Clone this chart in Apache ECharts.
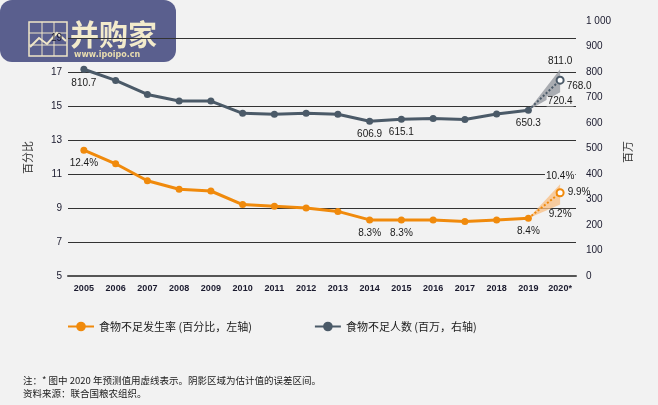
<!DOCTYPE html>
<html>
<head>
<meta charset="utf-8">
<title>食物不足发生率与人数</title>
<script src="https://cdn.jsdelivr.net/npm/echarts@6/dist/echarts.min.js"></script>
<style>
    html, body { margin: 0; padding: 0; background: #f2f2f2; }
    #chart { width: 658px; height: 405px; }
</style>
</head>
<body>
<div id="chart"></div>
<script>
// 年份（2020 为预测值）
const years = ['2005', '2006', '2007', '2008', '2009', '2010', '2011', '2012',
    '2013', '2014', '2015', '2016', '2017', '2018', '2019', '2020*'];

// 食物不足发生率（%，左轴），2005-2019
const rateValues = [12.4, 11.6, 10.6, 10.1, 10.0, 9.2, 9.1, 9.0, 8.8, 8.3, 8.3, 8.3, 8.2, 8.3, 8.4];
// 食物不足人数（百万，右轴），2005-2019
const countValues = [810.7, 767, 712, 686, 686, 638, 634, 638, 634, 606.9, 615.1, 618, 614, 635, 650.3];

// 2020 预测值及误差区间
const rateForecast = { mid: 9.9, low: 9.2, high: 10.4 };
const countForecast = { mid: 768.0, low: 720.4, high: 811.0 };

// 显示数值标签的年份序号
const labelIdx = [0, 9, 10, 14];

// 坐标轴刻度
const leftTicks = [5, 7, 9, 11, 13, 15, 17, 19];
const rightTicks = ['0', '100', '200', '300', '400', '500', '600', '700', '800', '900', '1 000'];

const legendNames = ['食物不足发生率 (百分比，左轴)', '食物不足人数 (百万，右轴)'];
const noteLines = ['注：* 图中 2020 年预测值用虚线表示。阴影区域为估计值的误差区间。', '资料来源：联合国粮农组织。'];

const ORANGE = '#f08a0c';
const GRAY = '#4b5a68';
const NUM_FONT = "'Liberation Sans Narrow', 'Liberation Sans', sans-serif";
const CJK_FONT = "'Noto Sans CJK SC', sans-serif";

(function () {
    const chart = echarts.init(document.getElementById('chart'));
    const last = rateValues.length - 1;

    // 主序列：带部分数值标签
    function mainData(values, fmt) {
        const arr = values.map((v, i) => labelIdx.includes(i)
            ? { value: v, label: { show: true, formatter: fmt(v) } }
            : v);
        arr.push(null);
        return arr;
    }

    // 预测序列：只在 2019 和 2020 有值
    function tailData(v2019, v2020) {
        const arr = years.map(() => null);
        arr[last] = v2019;
        arr[last + 1] = v2020;
        return arr;
    }

    const numLabel = {
        fontFamily: NUM_FONT, fontSize: 10, color: '#1a1a1a',
        backgroundColor: '#f2f2f2', padding: [0, 1]
    };

    const forecastDotted = (name, color, axis, v19, v20, fmt, offset) => ({
        name: name + '预测',
        type: 'line',
        yAxisIndex: axis,
        data: tailData({ value: v19, symbol: 'none' }, { value: v20, symbol: 'emptyCircle', symbolSize: 7 }),
        lineStyle: { type: 'dotted', width: 2, color: color },
        itemStyle: { color: color, borderWidth: 1.5 },
        symbol: 'emptyCircle',
        z: 4,
        label: {
            show: true, position: 'right', distance: 2, offset: offset, ...numLabel,
            backgroundColor: 'transparent',
            formatter: p => p.dataIndex === last ? '' : fmt(p.value)
        }
    });

    // 误差区间：下沿 + 区间宽度堆叠成阴影
    const bandSeries = (stack, color, axis, v19, low, high, fmt, lowDist) => [
        {
            name: stack + '下',
            type: 'line',
            yAxisIndex: axis,
            stack: stack,
            data: tailData(v19, low),
            symbol: 'circle',
            symbolSize: 0.1,
            itemStyle: { color: 'rgba(0,0,0,0)' },
            lineStyle: { opacity: 0 },
            z: 2,
            label: {
                show: true, position: 'bottom', distance: lowDist, ...numLabel,
                formatter: p => p.dataIndex === last ? '' : fmt(low)
            }
        },
        {
            name: stack + '上',
            type: 'line',
            yAxisIndex: axis,
            stack: stack,
            data: tailData(0, +(high - low).toFixed(2)),
            symbol: 'circle',
            symbolSize: 0.1,
            itemStyle: { color: 'rgba(0,0,0,0)' },
            lineStyle: { opacity: 0 },
            areaStyle: { color: color, opacity: 1 },
            z: 2,
            label: {
                show: true, position: 'top', distance: 3, ...numLabel,
                formatter: p => p.dataIndex === last ? '' : fmt(high)
            }
        }
    ];

    const pct = v => v.toFixed(1) + '%';
    const mil = v => v.toFixed(1);

    chart.setOption({
        backgroundColor: '#f2f2f2',
        animation: false,
        textStyle: { fontFamily: CJK_FONT },
        grid: { left: 68, right: 82, top: 21, bottom: 129 },
        legend: {
            data: legendNames,
            left: 62,
            top: 316,
            itemWidth: 26,
            itemHeight: 12,
            itemGap: 62,
            textStyle: { fontFamily: CJK_FONT, fontSize: 11, color: '#1a1a1a' }
        },
        xAxis: {
            type: 'category',
            data: years,
            axisLine: { lineStyle: { color: '#555', width: 2 } },
            axisTick: { alignWithLabel: true, interval: 0, length: 4, lineStyle: { color: '#555' } },
            axisLabel: { interval: 0, fontFamily: NUM_FONT, fontSize: 9, fontWeight: 'bold', color: '#1a1a2e', margin: 8 }
        },
        yAxis: [
            {
                type: 'value',
                min: 5,
                max: 20,
                interval: 2,
                name: '百分比',
                nameLocation: 'middle',
                nameGap: 35,
                nameRotate: 90,
                nameTextStyle: { fontFamily: CJK_FONT, fontSize: 11, color: '#333', padding: [0, 18, 0, 0] },
                axisLine: { show: false },
                axisTick: { show: false },
                axisLabel: {
                    fontFamily: NUM_FONT, fontSize: 10, color: '#1a1a2e', margin: 6,
                    formatter: v => leftTicks.includes(v) ? String(v) : ''
                },
                splitLine: {
                    lineStyle: {
                        color: leftTicks.map(() => '#333').concat(['rgba(0,0,0,0)']),
                        width: 1
                    }
                }
            },
            {
                type: 'value',
                min: 0,
                max: 1000,
                interval: 100,
                position: 'right',
                name: '百万',
                nameLocation: 'middle',
                nameGap: 40,
                nameRotate: 90,
                nameTextStyle: { fontFamily: CJK_FONT, fontSize: 11, color: '#333', padding: [0, 7, 0, 0] },
                axisLine: { show: false },
                axisTick: { show: false },
                splitLine: { show: false },
                axisLabel: {
                    fontFamily: NUM_FONT, fontSize: 10, color: '#1a1a2e', margin: 10,
                    formatter: v => rightTicks[Math.round(v / 100)]
                }
            }
        ],
        graphic: [
            // 水印
            {
                type: 'group', left: 0, top: 0, z: -10,
                children: [
                    { type: 'rect', shape: { x: -12, y: -14, width: 176, height: 62, r: 12 }, style: { fill: '#5a5f8e' } },
                    { type: 'rect', shape: { x: 17, y: 8, width: 38, height: 34 }, style: { fill: 'none', stroke: '#efe6c8', lineWidth: 1.5 } },
                    { type: 'line', shape: { x1: 17, y1: 19, x2: 55, y2: 19 }, style: { stroke: '#efe6c8', lineWidth: 1 } },
                    { type: 'line', shape: { x1: 17, y1: 31, x2: 55, y2: 31 }, style: { stroke: '#efe6c8', lineWidth: 1 } },
                    { type: 'line', shape: { x1: 30, y1: 8, x2: 30, y2: 42 }, style: { stroke: '#efe6c8', lineWidth: 1 } },
                    { type: 'line', shape: { x1: 42, y1: 8, x2: 42, y2: 42 }, style: { stroke: '#efe6c8', lineWidth: 1 } },
                    { type: 'polyline', shape: { points: [[18, 33], [27, 24], [35, 30], [45, 19], [54, 27]] }, style: { fill: 'none', stroke: '#efe6c8', lineWidth: 2 } },
                    { type: 'text', x: 58, y: 6, style: { text: '并购家', font: 'bold 29px "Noto Sans CJK SC"', fill: '#f3ebcc' } },
                    { type: 'text', x: 62, y: 37, style: { text: 'www.ipoipo.cn', font: 'bold 8px "DejaVu Sans"', fill: '#e9ddb0', letterSpacing: 3.2 } }
                ]
            },
            // 注释
            {
                type: 'text', left: 23, top: 374,
                style: { text: noteLines.join('\n'), font: '9.5px "Noto Sans CJK SC"', fill: '#1a1a1a', lineHeight: 13 }
            }
        ],
        series: [
            ...bandSeries('rateBand', 'rgba(248,190,130,0.75)', 0, rateValues[last], rateForecast.low, rateForecast.high, pct, 5),
            ...bandSeries('countBand', 'rgba(150,154,160,0.8)', 1, countValues[last], countForecast.low, countForecast.high, mil, 4),
            forecastDotted(legendNames[0], ORANGE, 0, rateValues[last], rateForecast.mid, pct, [0, 0]),
            forecastDotted(legendNames[1], GRAY, 1, countValues[last], countForecast.mid, mil, [-1, 6]),
            {
                name: legendNames[0],
                type: 'line',
                yAxisIndex: 0,
                data: mainData(rateValues, pct),
                symbol: 'circle',
                symbolSize: 7,
                lineStyle: { width: 3, color: ORANGE },
                itemStyle: { color: ORANGE },
                z: 5,
                label: { position: 'bottom', distance: 5, ...numLabel, backgroundColor: 'transparent' }
            },
            {
                name: legendNames[1],
                type: 'line',
                yAxisIndex: 1,
                data: mainData(countValues, mil),
                symbol: 'circle',
                symbolSize: 7,
                lineStyle: { width: 3, color: GRAY },
                itemStyle: { color: GRAY },
                z: 5,
                label: { position: 'bottom', distance: 5, ...numLabel, backgroundColor: 'transparent' }
            }
        ]
    });

    window.addEventListener('resize', () => chart.resize());
})();
</script>
</body>
</html>
